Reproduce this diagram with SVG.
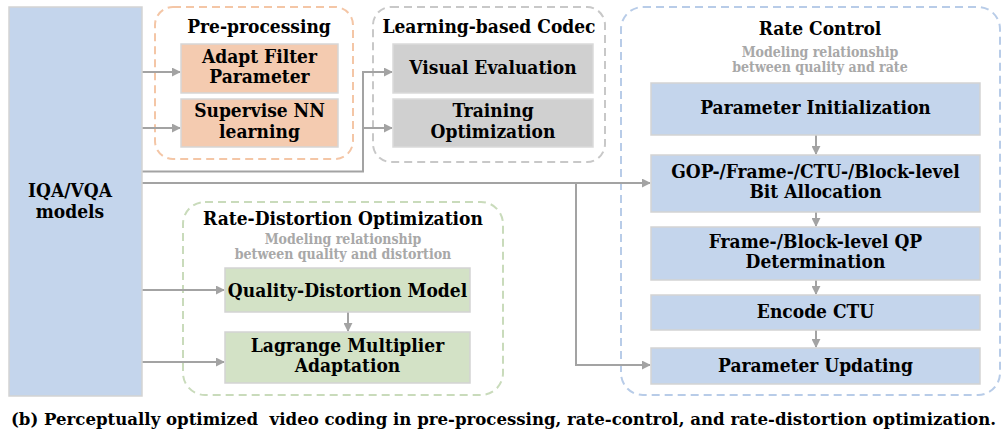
<svg xmlns="http://www.w3.org/2000/svg" width="1002" height="437" viewBox="0 0 1002 437">
  <defs>
    <marker id="arr" viewBox="0 0 10 10" refX="9" refY="5" markerWidth="4.5" markerHeight="4.5" orient="auto" markerUnits="strokeWidth">
      <path d="M0,0 L10,5 L0,10 z" fill="#a3a3a3"/>
    </marker>
  </defs>
  <style>
    text { font-family: "DejaVu Serif Condensed", "Liberation Serif", serif; font-stretch: condensed; font-weight: bold; }
    .t { font-size: 19px; fill: #000; text-anchor: middle; }
    .sub { font-size: 14px; fill: #a8a8a8; text-anchor: middle; }
    .cap { font-size: 17px; fill: #000; white-space: pre; }
    .blue { fill: #c4d5ec; stroke: #d3d3d3; stroke-width: 1.5; }
    .orange { fill: #f4cbb0; stroke: #d6d6d6; stroke-width: 1.5; }
    .grey { fill: #d0d0d0; stroke: #dadada; stroke-width: 1.5; }
    .green { fill: #d3e2c6; stroke: #d3d3d3; stroke-width: 1.5; }
    .grp { fill: none; stroke-width: 2; stroke-dasharray: 8 5; }
    .wire { fill: none; stroke: #a3a3a3; stroke-width: 2; }
  </style>

  <rect width="1002" height="437" fill="#ffffff"/>

  <!-- dashed group outlines with their titles -->
  <g id="groups">
    <rect id="pre-processing" class="grp" x="155" y="7" width="198" height="152" rx="18" stroke="#f4c6a6"/>
    <rect id="learning-codec" class="grp" x="373" y="7" width="232" height="155" rx="18" stroke="#c8c8c8"/>
    <rect id="rate-control" class="grp" x="621" y="7" width="379" height="388" rx="22" stroke="#b8cce8"/>
    <rect id="rdo" class="grp" x="183" y="202" width="320" height="193" rx="22" stroke="#c9dbbb"/>
    <text class="t" x="259" y="33">Pre-processing</text>
    <text class="t" x="489" y="33">Learning-based Codec</text>
    <text class="t" x="820" y="35">Rate Control</text>
    <text class="sub" x="820" y="57">Modeling relationship</text>
    <text class="sub" x="820" y="72">between quality and rate</text>
    <text class="t" x="343" y="225">Rate-Distortion Optimization</text>
    <text class="sub" x="343" y="244">Modeling relationship</text>
    <text class="sub" x="343" y="259">between quality and distortion</text>
  </g>

  <!-- connectors -->
  <g id="connectors">
    <path class="wire" d="M142,72 H180" marker-end="url(#arr)"/>
    <path class="wire" d="M142,128 H180" marker-end="url(#arr)"/>
    <path class="wire" d="M142,171.5 H363 V72 H392" marker-end="url(#arr)"/>
    <path class="wire" d="M363,128 H392" marker-end="url(#arr)"/>
    <path class="wire" d="M142,183 H650" marker-end="url(#arr)"/>
    <path class="wire" d="M576,183 V365 H650" marker-end="url(#arr)"/>
    <path class="wire" d="M142,290 H224" marker-end="url(#arr)"/>
    <path class="wire" d="M142,362 H224" marker-end="url(#arr)"/>
    <path class="wire" d="M348,312 V331" marker-end="url(#arr)"/>
    <path class="wire" d="M816,135 V154" marker-end="url(#arr)"/>
    <path class="wire" d="M816,212 V226" marker-end="url(#arr)"/>
    <path class="wire" d="M816,280 V294" marker-end="url(#arr)"/>
    <path class="wire" d="M816,330 V347" marker-end="url(#arr)"/>
  </g>

  <g id="iqa-vqa">
    <rect class="blue" x="9" y="7" width="133" height="389"/>
    <text class="t" x="70" y="197">IQA/VQA</text>
    <text class="t" x="70" y="218">models</text>
  </g>

  <g id="adapt-filter">
    <rect class="orange" x="181" y="44" width="157" height="49"/>
    <text class="t" x="259.5" y="63">Adapt Filter</text>
    <text class="t" x="259.5" y="83">Parameter</text>
  </g>
  <g id="supervise-nn">
    <rect class="orange" x="181" y="99" width="157" height="48"/>
    <text class="t" x="259.5" y="117">Supervise NN</text>
    <text class="t" x="259.5" y="138">learning</text>
  </g>

  <g id="visual-evaluation">
    <rect class="grey" x="393" y="44" width="200" height="49"/>
    <text class="t" x="493" y="74">Visual Evaluation</text>
  </g>
  <g id="training-optimization">
    <rect class="grey" x="393" y="99" width="200" height="48"/>
    <text class="t" x="493" y="117">Training</text>
    <text class="t" x="493" y="138">Optimization</text>
  </g>

  <g id="parameter-initialization">
    <rect class="blue" x="651" y="83" width="329" height="52"/>
    <text class="t" x="815.5" y="114">Parameter Initialization</text>
  </g>
  <g id="bit-allocation">
    <rect class="blue" x="651" y="155" width="329" height="57"/>
    <text class="t" x="815.5" y="178">GOP-/Frame-/CTU-/Block-level</text>
    <text class="t" x="815.5" y="198">Bit Allocation</text>
  </g>
  <g id="qp-determination">
    <rect class="blue" x="651" y="227" width="329" height="53"/>
    <text class="t" x="815.5" y="248">Frame-/Block-level QP</text>
    <text class="t" x="815.5" y="268">Determination</text>
  </g>
  <g id="encode-ctu">
    <rect class="blue" x="651" y="295" width="329" height="35"/>
    <text class="t" x="815.5" y="318">Encode CTU</text>
  </g>
  <g id="parameter-updating">
    <rect class="blue" x="651" y="348" width="329" height="36"/>
    <text class="t" x="815.5" y="372">Parameter Updating</text>
  </g>

  <g id="quality-distortion-model">
    <rect class="green" x="225" y="268" width="245" height="44"/>
    <text class="t" x="347.5" y="297">Quality-Distortion Model</text>
  </g>
  <g id="lagrange-multiplier">
    <rect class="green" x="225" y="332" width="245" height="51"/>
    <text class="t" x="347.5" y="352">Lagrange Multiplier</text>
    <text class="t" x="347.5" y="372">Adaptation</text>
  </g>

  <text class="cap" x="11" y="425" textLength="985" lengthAdjust="spacingAndGlyphs">(b) Perceptually optimized  video coding in pre-processing, rate-control, and rate-distortion optimization.</text>
</svg>
